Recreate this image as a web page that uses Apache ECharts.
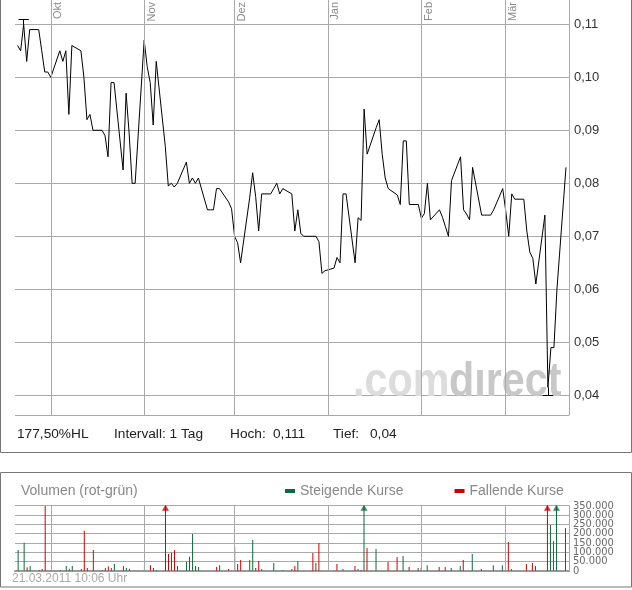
<!DOCTYPE html>
<html><head><meta charset="utf-8">
<script src="https://cdn.jsdelivr.net/npm/echarts@6/dist/echarts.min.js"></script>
<style>html,body{margin:0;padding:0;background:#fff}#c{width:632px;height:590px}</style>
</head><body><div id="c"></div>
<script>
// ---------- data ----------
const priceDates = [
 '2010-09-20','2010-09-21','2010-09-22','2010-09-23','2010-09-24','2010-09-27','2010-09-28','2010-09-29','2010-09-30','2010-10-01',
 '2010-10-04','2010-10-05','2010-10-06','2010-10-07','2010-10-08','2010-10-11','2010-10-12','2010-10-13','2010-10-14','2010-10-15',
 '2010-10-18','2010-10-19','2010-10-20','2010-10-21','2010-10-22','2010-10-25','2010-10-26','2010-10-27','2010-10-28','2010-10-29',
 '2010-11-01','2010-11-02','2010-11-03','2010-11-04','2010-11-05','2010-11-08','2010-11-09','2010-11-10','2010-11-11','2010-11-12',
 '2010-11-15','2010-11-16','2010-11-17','2010-11-18','2010-11-19','2010-11-22','2010-11-23','2010-11-24','2010-11-25','2010-11-26',
 '2010-11-29','2010-11-30','2010-12-01','2010-12-02','2010-12-03','2010-12-06','2010-12-07','2010-12-08','2010-12-09','2010-12-10',
 '2010-12-13','2010-12-14','2010-12-15','2010-12-16','2010-12-17','2010-12-20','2010-12-21','2010-12-22','2010-12-23','2010-12-24',
 '2010-12-27','2010-12-28','2010-12-29','2010-12-30','2010-12-31','2011-01-03','2011-01-04','2011-01-05','2011-01-06','2011-01-07',
 '2011-01-10','2011-01-11','2011-01-12','2011-01-13','2011-01-14','2011-01-17','2011-01-18','2011-01-19','2011-01-20','2011-01-21',
 '2011-01-24','2011-01-25','2011-01-26','2011-01-27','2011-01-28','2011-01-31','2011-02-01','2011-02-02','2011-02-03','2011-02-04',
 '2011-02-07','2011-02-08','2011-02-09','2011-02-10','2011-02-11','2011-02-14','2011-02-15','2011-02-16','2011-02-17','2011-02-18',
 '2011-02-21','2011-02-22','2011-02-23','2011-02-24','2011-02-25','2011-02-28','2011-03-01','2011-03-02','2011-03-03','2011-03-04',
 '2011-03-07','2011-03-08','2011-03-09','2011-03-10','2011-03-11','2011-03-14','2011-03-15','2011-03-16','2011-03-17','2011-03-18',
 '2011-03-21'
];
const priceValues = [
 0.106,0.105,0.110,0.103,0.109,0.109,0.105,0.101,0.101,0.100,
 0.105,0.103,0.105,0.093,0.106,0.105,0.100,0.092,0.093,0.090,
 0.090,0.089,0.085,0.099,0.099,0.0825,0.097,0.0895,0.080,0.080,
 0.107,0.102,0.099,0.091,0.103,0.087,0.0795,0.080,0.0793,0.080,
 0.084,0.080,0.081,0.080,0.081,0.075,0.075,0.075,0.079,0.079,
 0.0765,0.0752,0.070,0.0688,0.065,0.0772,0.082,0.0775,0.071,0.078,
 0.078,0.079,0.080,0.078,0.079,0.078,0.071,0.075,0.0705,0.070,
 0.070,0.070,0.069,0.063,0.0635,0.064,0.066,0.065,0.078,0.078,
 0.065,0.0735,0.073,0.094,0.0855,0.0905,0.092,0.0855,0.081,0.079,
 0.0778,0.076,0.088,0.088,0.076,0.076,0.0734,0.0743,0.080,0.0731,
 0.075,0.0736,0.0718,0.070,0.0805,0.085,0.075,0.0742,0.0731,0.083,
 0.074,0.074,0.074,0.074,0.075,0.079,0.0748,0.070,0.078,0.077,
 0.077,0.071,0.067,0.0658,0.061,0.074,0.0415,0.049,0.049,0.060,
 0.083
];
const hoch = 0.111, hochDate = '2010-09-22';
const tief = 0.04,  tiefDate = '2011-03-15';

const volDates = [
 '2010-09-20','2010-09-22','2010-09-23','2010-09-24','2010-09-27','2010-09-28','2010-09-29','2010-10-01','2010-10-04','2010-10-06',
 '2010-10-07','2010-10-08','2010-10-11','2010-10-12','2010-10-13','2010-10-15','2010-10-18','2010-10-19','2010-10-20','2010-10-21',
 '2010-10-22','2010-10-25','2010-10-26','2010-10-27','2010-11-01','2010-11-03','2010-11-04','2010-11-05','2010-11-08','2010-11-09',
 '2010-11-10','2010-11-11','2010-11-12','2010-11-15','2010-11-16','2010-11-17','2010-11-18','2010-11-19','2010-11-25','2010-11-26',
 '2010-11-29','2010-12-01','2010-12-02','2010-12-03','2010-12-06','2010-12-07','2010-12-08','2010-12-09','2010-12-10','2010-12-14',
 '2010-12-17','2010-12-20','2010-12-21','2010-12-22','2010-12-27','2010-12-28','2010-12-29','2011-01-04','2011-01-06','2011-01-10',
 '2011-01-11','2011-01-12','2011-01-13','2011-01-14','2011-01-17','2011-01-21','2011-01-24','2011-01-26','2011-01-28','2011-01-31',
 '2011-02-01','2011-02-03','2011-02-07','2011-02-09','2011-02-11','2011-02-14','2011-02-15','2011-02-18','2011-02-21','2011-02-25',
 '2011-02-28','2011-03-01','2011-03-02','2011-03-03','2011-03-08','2011-03-10','2011-03-11','2011-03-15','2011-03-16','2011-03-17',
 '2011-03-18','2011-03-21'
];
const volValues = [
 111000,151000,18000,25000,4000,9000,349000,4000,4000,25000,
 11000,25000,9000,215000,14000,111000,4000,14000,22000,14000,
 36000,25000,14000,11000,30000,30000,14000,4000,520000,90000,
 97000,111000,25000,48000,75000,197000,25000,20000,20000,30000,
 9000,127000,36000,57000,57000,165000,14000,52000,9000,41000,
 4000,9000,25000,52000,95000,41000,149000,36000,9000,25000,
 9000,4000,480000,122000,117000,47000,74000,79000,20000,14000,
 14000,30000,20000,20000,14000,25000,57000,90000,9000,30000,
 30000,4000,154000,9000,36000,41000,25000,900000,246000,160000,
 600000,230000
];
const volDir = [
 'u','u','d','u','u','d','d','d','u','u',
 'd','u','d','d','d','d','u','d','d','u',
 'u','d','u','d','u','d','d','u','d','d',
 'u','d','u','u','d','u','d','u','d','u',
 'd','d','d','d','u','u','d','d','u','u',
 'u','d','d','u','d','u','d','d','u','d',
 'u','d','u','d','u','d','d','u','d','u',
 'd','u','d','d','u','u','d','u','d','u',
 'u','d','d','u','d','d','d','d','u','u',
 'u','u'
];
const volMax = 350000, volStep = 50000;
const volTicks = [0, 50000, 100000, 150000, 200000, 250000, 300000, 350000];
const monthStarts = ['2010-10-01','2010-11-01','2010-12-01','2011-01-01','2011-02-01','2011-03-01'];
const monthLabels = ['Okt','Nov','Dez','Jan','Feb','Mär'];
const infoInterval = 'Intervall: 1 Tag';
const stampText = '21.03.2011 10:06 Uhr';
const volTitle = 'Volumen (rot-grün)';
const legendUp = 'Steigende Kurse', legendDown = 'Fallende Kurse';

// ---------- helpers ----------
const DAY = 86400000;
function ts(s){ const p = s.split('-').map(Number); return new Date(p[0], p[1]-1, p[2]).getTime(); }
const xMin = new Date(2010, 8, 19, 3).getTime();
const xMax = new Date(2011, 2, 22, 0).getTime();
const yMin = 0.036283, yMax = 0.114585;
const de = (v, n) => v.toFixed(n).replace('.', ',');
const thousands = v => String(Math.round(v)).replace(/\B(?=(\d{3})+(?!\d))/g, '.');
const FONT = '"Liberation Sans", Arial, Helvetica, sans-serif';
const NARROW = '"Liberation Sans Narrow", "DejaVu Sans Condensed", "Liberation Sans", sans-serif';
const GREEN = '#0d6b3b', RED = '#d00000', GRID = '#a9a9a9';

const priceData = priceDates.map((d, i) => [ts(d), priceValues[i]]);
const closeAt = d => priceValues[priceDates.indexOf(d)];
const upData = [], downData = [], arrowUp = [], arrowDown = [];
volDates.forEach((d, i) => {
  const p = [ts(d), volValues[i]];
  if (volDir[i] === 'u') { upData.push(p); if (volValues[i] > volMax) arrowUp.push([ts(d), volMax]); }
  else { downData.push(p); if (volValues[i] > volMax) arrowDown.push([ts(d), volMax]); }
});
const hlPct = (hoch / tief - 1) * 100;

const chart = echarts.init(document.getElementById('c'), null, {renderer: 'canvas'});
const option = {
  animation: false,
  textStyle: {fontFamily: FONT},
  grid: [
    {left: 15, right: 63, top: 0, height: 415},
    {left: 15, right: 63, top: 505.7, height: 65}
  ],
  legend: {
    data: [legendUp, legendDown],
    left: 285, top: 484, padding: 0,
    icon: 'rect', itemWidth: 10, itemHeight: 4, itemGap: 51,
    selectedMode: false,
    textStyle: {color: '#888', fontSize: 14, fontFamily: FONT}
  },
  xAxis: [
    {type: 'time', gridIndex: 0, min: xMin, max: xMax, show: false},
    {type: 'time', gridIndex: 1, min: xMin, max: xMax,
      axisLabel: {show: false}, axisTick: {show: false}, splitLine: {show: false},
      axisLine: {show: true, lineStyle: {color: '#9a9a9a', width: 2}}}
  ],
  yAxis: [
    {type: 'value', gridIndex: 0, position: 'right', min: yMin, max: yMax, splitNumber: 7,
      axisLine: {show: true, lineStyle: {color: GRID}}, axisTick: {show: false},
      axisLabel: {showMinLabel: false, showMaxLabel: false, color: '#333', fontSize: 13, fontFamily: FONT, margin: 5,
        formatter: v => de(v, 2)},
      splitLine: {show: true, showMinLine: true, showMaxLine: false, lineStyle: {color: GRID, width: 1}}},
    {type: 'value', gridIndex: 1, position: 'right', min: 0, max: volMax, interval: volStep,
      axisLine: {show: true, lineStyle: {color: GRID}}, axisTick: {show: false},
      axisLabel: {show: false},
      splitLine: {show: true, lineStyle: {color: GRID, width: 1}}}
  ],
  series: [
    { // month lines price
      type: 'line', xAxisIndex: 0, yAxisIndex: 0, data: [], z: 1, silent: true,
      markLine: {silent: true, symbol: ['none','none'], animation: false,
        lineStyle: {color: GRID, width: 1, type: 'solid'},
        label: {show: true, formatter: '{b}', position: 'insideEndBottom', color: '#8a8a8a', fontSize: 11, fontFamily: FONT, distance: 2},
        emphasis: {disabled: true},
        data: monthStarts.map((m, i) => ({xAxis: ts(m), name: monthLabels[i]}))}
    },
    { // month lines volume
      type: 'line', xAxisIndex: 1, yAxisIndex: 1, data: [], z: 1, silent: true,
      markLine: {silent: true, symbol: ['none','none'], animation: false,
        lineStyle: {color: GRID, width: 1, type: 'solid'}, label: {show: false},
        emphasis: {disabled: true},
        data: monthStarts.map(m => ({xAxis: ts(m)}))}
    },
    { // volume axis tick labels (placed by the value axis scale)
      type: 'scatter', xAxisIndex: 1, yAxisIndex: 1, silent: true, clip: false, z: 5,
      symbol: 'rect', symbolSize: 1, itemStyle: {color: 'rgba(0,0,0,0)'},
      data: volTicks.map(v => [xMax, v]),
      label: {show: true, position: 'right', distance: 4, color: '#444', fontSize: 11, fontFamily: NARROW,
        formatter: p => thousands(p.value[1])},
      labelLayout: {hideOverlap: false}
    },
    {
      type: 'line', name: 'Kurs', xAxisIndex: 0, yAxisIndex: 0, data: priceData, z: 3,
      symbol: 'none', showSymbol: false, lineStyle: {color: '#000', width: 1}, silent: true,
      markLine: {silent: true, symbol: ['none','none'], animation: false,
        lineStyle: {color: '#000', width: 1, type: 'solid'}, label: {show: false},
        emphasis: {disabled: true},
        data: [
          [{coord: [ts(hochDate) - 1.7*DAY, hoch]}, {coord: [ts(hochDate) + 1.7*DAY, hoch]}],
          [{coord: [ts(hochDate), hoch]}, {coord: [ts(hochDate), closeAt(hochDate)]}],
          [{coord: [ts(tiefDate) - 1.7*DAY, tief]}, {coord: [ts(tiefDate) + 1.7*DAY, tief]}],
          [{coord: [ts(tiefDate), tief]}, {coord: [ts(tiefDate), closeAt(tiefDate)]}]
        ]}
    },
    {type: 'bar', name: legendUp, xAxisIndex: 1, yAxisIndex: 1, data: upData, barWidth: 1, barGap: '-100%',
      itemStyle: {color: GREEN}, silent: true, z: 3},
    {type: 'bar', name: legendDown, xAxisIndex: 1, yAxisIndex: 1, data: downData, barWidth: 1, barGap: '-100%',
      itemStyle: {color: RED}, silent: true, z: 3},
    {type: 'scatter', xAxisIndex: 1, yAxisIndex: 1, data: arrowUp, symbol: 'triangle', symbolSize: [7, 6],
      symbolOffset: [0, 2], itemStyle: {color: GREEN}, silent: true, z: 4, clip: false},
    {type: 'scatter', xAxisIndex: 1, yAxisIndex: 1, data: arrowDown, symbol: 'triangle', symbolSize: [7, 6],
      symbolOffset: [0, 2], itemStyle: {color: RED}, silent: true, z: 4, clip: false}
  ],
  graphic: [
    {type: 'rect', shape: {x: 0.5, y: -1, width: 631, height: 453.5}, style: {fill: 'none', stroke: '#777', lineWidth: 1}, silent: true, z: 0},
    {type: 'rect', shape: {x: 0.5, y: 472.5, width: 631, height: 114.5}, style: {fill: 'none', stroke: '#777', lineWidth: 1}, silent: true, z: 0},
    {type: 'text', x: 353, y: 383, scaleX: 0.86, z: 1, silent: true,
      style: {text: '.com', fill: '#dcdcdc', font: 'bold 48px ' + FONT, verticalAlign: 'middle'}},
    {type: 'text', x: 449, y: 383, scaleX: 0.86, z: 1, silent: true,
      style: {text: 'dırect', fill: '#c8c8c8', font: 'bold 48px ' + FONT, verticalAlign: 'middle'}},
    {type: 'text', x: 17, y: 434, silent: true, style: {text: de(hlPct, 2) + '%HL', fill: '#222', font: '13.7px ' + FONT, verticalAlign: 'middle'}},
    {type: 'text', x: 114, y: 434, silent: true, style: {text: infoInterval, fill: '#222', font: '13.7px ' + FONT, verticalAlign: 'middle'}},
    {type: 'text', x: 230, y: 434, silent: true, style: {text: 'Hoch:', fill: '#222', font: '13.7px ' + FONT, verticalAlign: 'middle'}},
    {type: 'text', x: 273, y: 434, silent: true, style: {text: de(hoch, 3), fill: '#222', font: '13.7px ' + FONT, verticalAlign: 'middle'}},
    {type: 'text', x: 333, y: 434, silent: true, style: {text: 'Tief:', fill: '#222', font: '13.7px ' + FONT, verticalAlign: 'middle'}},
    {type: 'text', x: 370, y: 434, silent: true, style: {text: de(tief, 2), fill: '#222', font: '13.7px ' + FONT, verticalAlign: 'middle'}},
    {type: 'text', x: 21, y: 491, silent: true, style: {text: volTitle, fill: '#888', font: '14px ' + FONT, verticalAlign: 'middle'}},
    {type: 'text', x: 12, y: 579, silent: true, style: {text: stampText, fill: '#aaa', font: '12px ' + FONT, verticalAlign: 'middle'}}
  ]
};
chart.setOption(option);
</script>
</body></html>
